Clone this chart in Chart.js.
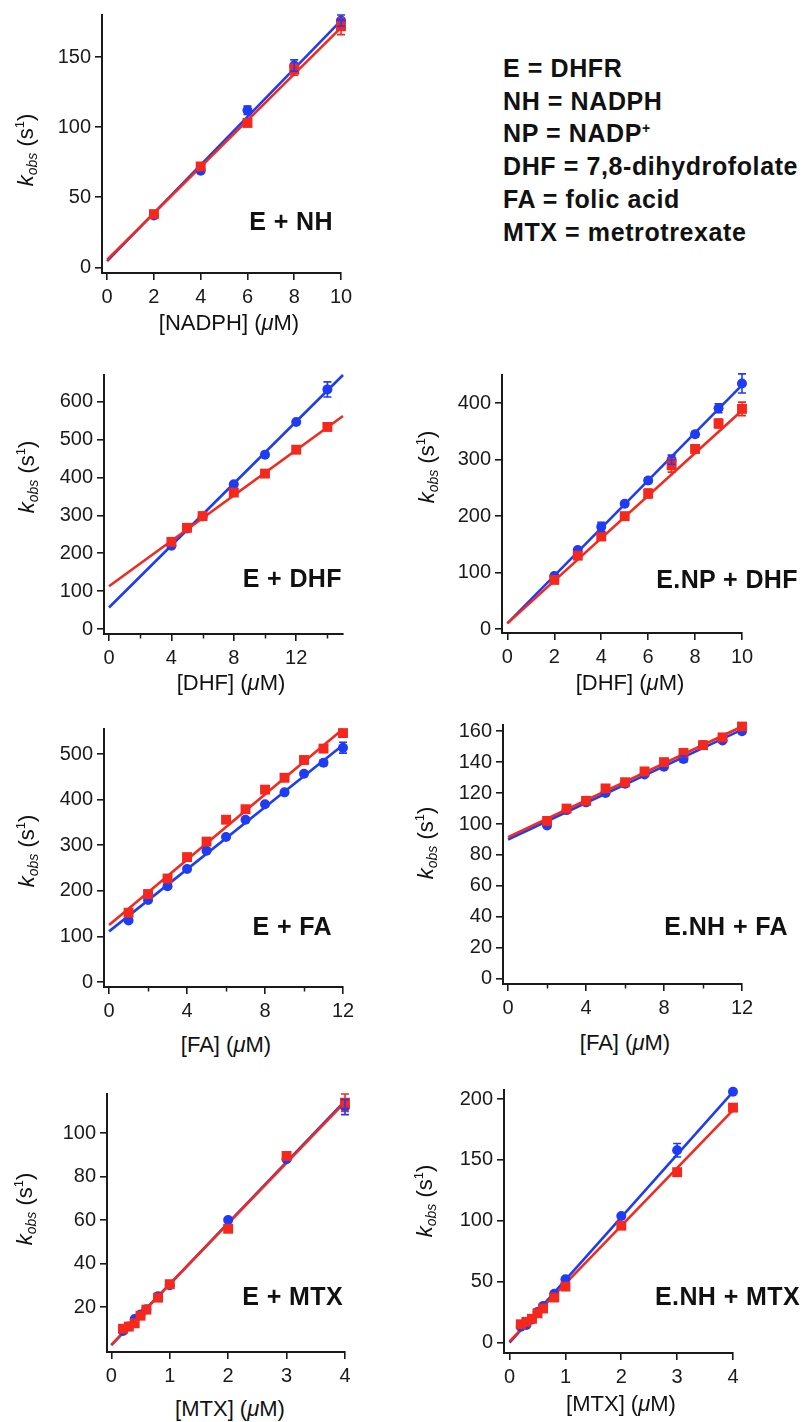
<!DOCTYPE html>
<html><head><meta charset="utf-8">
<script src="https://cdn.jsdelivr.net/npm/chart.js@4.4.1/dist/chart.umd.min.js"></script>
<style>
body{margin:0;background:#fff;}
#wrap{position:relative;width:812px;height:1422px;overflow:hidden;font-family:"Liberation Sans",Arial,Helvetica,sans-serif;color:#111;}
canvas{position:absolute;}
.lbl{position:absolute;font-weight:bold;font-size:25px;letter-spacing:0.4px;white-space:nowrap;transform:translateY(-50%);text-align:right;}
.xt{position:absolute;font-size:22px;white-space:nowrap;transform:translate(-50%,-50%);}
.yt{position:absolute;font-size:22px;white-space:nowrap;transform:translate(-50%,-50%) rotate(-90deg);line-height:26px;}
.yt sub{font-size:14px;vertical-align:baseline;position:relative;top:4px;line-height:0;}
.yt sup{font-size:13px;vertical-align:baseline;position:relative;top:-9px;line-height:0;}
.legend{position:absolute;left:503px;top:52px;font-weight:bold;font-size:25px;letter-spacing:0.6px;line-height:32.7px;white-space:nowrap;}
.legend sup{font-size:14px;vertical-align:baseline;position:relative;top:-9px;line-height:0;}
</style></head>
<body><div id="wrap"></div>
<script>
// ---------- DATA ----------
// E + NH
const nhX = [2, 4, 6, 8, 10];
const nhBlue = [37, 69, 112, 144, 176];
const nhBlueErr = [0, 0, 3, 4, 4];
const nhRed = [38, 72, 103, 141, 172];
const nhRedErr = [0, 0, 0, 4, 6];
const nhFitX = [0, 10];
const nhBlueFit = [4.5, 176];
const nhRedFit = [5.5, 171];
const nhXTicks = [0, 2, 4, 6, 8, 10];
const nhYTicks = [0, 50, 100, 150];

// E + DHF
const dhfX = [4, 5, 6, 8, 10, 12, 14];
const dhfBlue = [220, 265, 297, 382, 460, 546, 632];
const dhfBlueErr = [0, 0, 0, 0, 0, 0, 20];
const dhfRed = [230, 267, 298, 360, 410, 473, 533];
const dhfRedErr = [0, 0, 0, 0, 0, 0, 0];
const dhfFitX = [0, 15];
const dhfBlueFit = [57, 670];
const dhfRedFit = [113, 562];
const dhfXTicks = [0, 4, 8, 12];
const dhfXMinor = [2, 6, 10, 14];
const dhfYTicks = [0, 100, 200, 300, 400, 500, 600];

// E.NP + DHF
const npX = [2, 3, 4, 5, 6, 7, 8, 9, 10];
const npBlue = [94, 140, 181, 222, 263, 300, 345, 391, 435];
const npBlueErr = [0, 0, 8, 0, 5, 8, 5, 8, 17];
const npRed = [87, 130, 164, 200, 240, 290, 319, 364, 390];
const npRedErr = [0, 0, 0, 0, 8, 12, 0, 8, 12];
const npFitX = [0, 10];
const npBlueFit = [10, 432];
const npRedFit = [10, 387];
const npXTicks = [0, 2, 4, 6, 8, 10];
const npYTicks = [0, 100, 200, 300, 400];

// E + FA
const faX = [1, 2, 3, 4, 5, 6, 7, 8, 9, 10, 11, 12];
const faBlue = [135, 180, 210, 248, 288, 318, 356, 390, 416, 457, 481, 514];
const faBlueErr = [0, 0, 0, 0, 0, 0, 0, 0, 0, 0, 6, 12];
const faRed = [152, 193, 227, 274, 308, 356, 379, 422, 448, 487, 512, 546];
const faRedErr = [0, 0, 0, 0, 0, 0, 0, 0, 0, 0, 0, 0];
const faFitX = [0, 12];
const faBlueFit = [111, 520];
const faRedFit = [125, 555];
const faXTicks = [0, 4, 8, 12];
const faXMinor = [2, 6, 10];
const faYTicks = [0, 100, 200, 300, 400, 500];

// E.NH + FA
const nhfaX = [2, 3, 4, 5, 6, 7, 8, 9, 10, 11, 12];
const nhfaBlue = [99, 109, 114, 120, 126, 132, 137, 142, 151, 154, 160];
const nhfaBlueErr = [0, 0, 0, 0, 0, 0, 0, 2, 0, 0, 0];
const nhfaRed = [102, 110, 115, 123, 127, 134, 140, 146, 151, 156, 163];
const nhfaRedErr = [0, 0, 0, 0, 0, 0, 0, 0, 0, 0, 0];
const nhfaFitX = [0, 12];
const nhfaBlueFit = [90, 161];
const nhfaRedFit = [91.5, 163];
const nhfaXTicks = [0, 4, 8, 12];
const nhfaXMinor = [2, 6, 10];
const nhfaYTicks = [0, 20, 40, 60, 80, 100, 120, 140, 160];

// E + MTX
const mtxX = [0.2, 0.3, 0.4, 0.5, 0.6, 0.8, 1, 2, 3, 4];
const mtxBlue = [9, 11, 14.5, 16.5, 19, 25, 30, 60, 88, 112];
const mtxBlueErr = [0, 0, 0, 0, 0, 0, 0, 0, 0, 3.5];
const mtxRed = [10, 11, 12.5, 16, 18.8, 24.3, 30.5, 56, 89.5, 114];
const mtxRedErr = [0, 0, 0, 0, 0, 0, 0, 0, 0, 4];
const mtxFitX = [0, 4];
const mtxBlueFit = [2.5, 114.8];
const mtxRedFit = [2.6, 114.3];
const mtxXTicks = [0, 1, 2, 3, 4];
const mtxYTicks = [20, 40, 60, 80, 100];

// E.NH + MTX
const nhmtxX = [0.2, 0.3, 0.4, 0.5, 0.6, 0.8, 1, 2, 3, 4];
const nhmtxBlue = [13, 14.5, 19, 25, 30, 40, 52, 104, 158, 206];
const nhmtxBlueErr = [0, 0, 0, 0, 0, 0, 0, 0, 5.5, 0];
const nhmtxRed = [15, 17, 19.5, 24, 28, 37, 46, 96, 140, 193];
const nhmtxRedErr = [0, 0, 0, 0, 0, 0, 0, 0, 0, 0];
const nhmtxFitX = [0, 4];
const nhmtxBlueFit = [0, 206];
const nhmtxRedFit = [1, 191];
const nhmtxXTicks = [0, 1, 2, 3, 4];
const nhmtxYTicks = [0, 50, 100, 150, 200];

// ---------- STYLE / LAYOUT ----------
const BLUE = '#1f3cf5';
const RED = '#f5281e';
const AX = '#1a1a1a';
const FONT = '"Liberation Sans", Arial, Helvetica, sans-serif';

const panels = [
  {box:[102,341,13,273], xr:[-0.22,10], yr:[-4,180], xt:nhXTicks, yt:nhYTicks, xm:[],
   x:nhX, b:nhBlue, be:nhBlueErr, r:nhRed, re:nhRedErr, fx:nhFitX, bf:nhBlueFit, rf:nhRedFit},
  {box:[104,343,373,634], xr:[-0.32,15], yr:[-13,670], xt:dhfXTicks, yt:dhfYTicks, xm:dhfXMinor,
   x:dhfX, b:dhfBlue, be:dhfBlueErr, r:dhfRed, re:dhfRedErr, fx:dhfFitX, bf:dhfBlueFit, rf:dhfRedFit},
  {box:[502,742,373,633], xr:[-0.23,10], yr:[-7,450], xt:npXTicks, yt:npYTicks, xm:[],
   x:npX, b:npBlue, be:npBlueErr, r:npRed, re:npRedErr, fx:npFitX, bf:npBlueFit, rf:npRedFit},
  {box:[104,343,727,987], xr:[-0.26,12], yr:[-11,555], xt:faXTicks, yt:faYTicks, xm:faXMinor,
   x:faX, b:faBlue, be:faBlueErr, r:faRed, re:faRedErr, fx:faFitX, bf:faBlueFit, rf:faRedFit},
  {box:[503,742,723,984], xr:[-0.26,12], yr:[-3.4,164], xt:nhfaXTicks, yt:nhfaYTicks, xm:nhfaXMinor,
   x:nhfaX, b:nhfaBlue, be:nhfaBlueErr, r:nhfaRed, re:nhfaRedErr, fx:nhfaFitX, bf:nhfaBlueFit, rf:nhfaRedFit},
  {box:[107,345,1092,1352], xr:[-0.074,4], yr:[-0.7,118], xt:mtxXTicks, yt:mtxYTicks, xm:[],
   x:mtxX, b:mtxBlue, be:mtxBlueErr, r:mtxRed, re:mtxRedErr, fx:mtxFitX, bf:mtxBlueFit, rf:mtxRedFit},
  {box:[504,733,1088,1353], xr:[-0.1,4], yr:[-8.6,207.5], xt:nhmtxXTicks, yt:nhmtxYTicks, xm:[],
   x:nhmtxX, b:nhmtxBlue, be:nhmtxBlueErr, r:nhmtxRed, re:nhmtxRedErr, fx:nhmtxFitX, bf:nhmtxBlueFit, rf:nhmtxRedFit}
];

const panelLabels = [
  ['E + NH', 333, 221], ['E + DHF', 342, 578], ['E.NP + DHF', 798, 579],
  ['E + FA', 332, 926], ['E.NH + FA', 788, 926], ['E + MTX', 343, 1296], ['E.NH + MTX', 800, 1296]
];
const xTitles = [
  ['[NADPH] (<i>μ</i>M)', 229, 323], ['[DHF] (<i>μ</i>M)', 231, 683], ['[DHF] (<i>μ</i>M)', 630, 683],
  ['[FA] (<i>μ</i>M)', 226, 1045], ['[FA] (<i>μ</i>M)', 625, 1043], ['[MTX] (<i>μ</i>M)', 230, 1409], ['[MTX] (<i>μ</i>M)', 621, 1404]
];
const yTitlePos = [[26,150],[27,477],[427,467],[27,851],[426,843],[25,1209],[425,1201]];
const legendLines = ['E = DHFR','NH = NADPH','NP = NADP<sup>+</sup>','DHF = 7,8-dihydrofolate','FA = folic acid','MTX = metrotrexate'];

// ---------- PLUGIN: error bars + minor ticks ----------
const extras = {
  id: 'extras',
  afterDatasetsDraw(chart) {
    const ctx = chart.ctx, xs = chart.scales.x, ys = chart.scales.y;
    ctx.save();
    chart.data.datasets.forEach(ds => {
      if (!ds.errors) return;
      ctx.strokeStyle = ds.pointBackgroundColor;
      ctx.lineWidth = 1.6;
      ds.data.forEach((pt, j) => {
        const e = ds.errors[j];
        if (!e) return;
        const px = xs.getPixelForValue(pt.x);
        const y1 = ys.getPixelForValue(pt.y - e), y2 = ys.getPixelForValue(pt.y + e);
        ctx.beginPath();
        ctx.moveTo(px, y1); ctx.lineTo(px, y2);
        ctx.moveTo(px - 4, y1); ctx.lineTo(px + 4, y1);
        ctx.moveTo(px - 4, y2); ctx.lineTo(px + 4, y2);
        ctx.stroke();
      });
    });
    const minor = chart.options.plugins.extras.minorX || [];
    ctx.strokeStyle = AX; ctx.lineWidth = 1.5;
    const yb = chart.chartArea.bottom;
    minor.forEach(v => {
      const px = Math.round(xs.getPixelForValue(v)) + 0.5;
      ctx.beginPath(); ctx.moveTo(px, yb); ctx.lineTo(px, yb + 4.5); ctx.stroke();
    });
    ctx.restore();
  }
};

const wrap = document.getElementById('wrap');
const YW = 70, PT = 14, PR = 24, XH = 44;

function pts(xs, ys) { return xs.map((x, i) => ({x: x, y: ys[i]})); }

panels.forEach((p, idx) => {
  const [L, R, T, B] = p.box;
  const c = document.createElement('canvas');
  const w = YW + (R - L) + PR, h = PT + (B - T) + XH;
  c.width = w; c.height = h;
  c.style.left = (L - YW) + 'px'; c.style.top = (T - PT) + 'px';
  c.style.width = w + 'px'; c.style.height = h + 'px';
  wrap.appendChild(c);
  const tickFont = {family: FONT, size: 20};
  new Chart(c, {
    type: 'scatter',
    data: {
      datasets: [
        {data: pts(p.fx, p.rf), showLine: true, borderColor: RED, borderWidth: 2.6, pointRadius: 0, order: 10, clip: 2},
        {data: pts(p.fx, p.bf), showLine: true, borderColor: BLUE, borderWidth: 2.6, pointRadius: 0, order: 11, clip: 2},
        {data: pts(p.x, p.r), errors: p.re, pointStyle: 'rect', pointRadius: 7, pointBackgroundColor: RED, pointBorderWidth: 0, borderColor: RED, showLine: false, order: 1, clip: false},
        {data: pts(p.x, p.b), errors: p.be, pointStyle: 'circle', pointRadius: 5, pointBackgroundColor: BLUE, pointBorderWidth: 0, borderColor: BLUE, showLine: false, order: 5, clip: false}
      ]
    },
    options: {
      responsive: false, animation: false, devicePixelRatio: 1,
      layout: {padding: {left: 0, top: PT, right: PR, bottom: 0}},
      plugins: {legend: {display: false}, tooltip: {enabled: false}, extras: {minorX: p.xm}},
      scales: {
        x: {
          type: 'linear', min: p.xr[0], max: p.xr[1],
          afterBuildTicks: s => { s.ticks = p.xt.map(v => ({value: v})); },
          afterFit: s => { s.height = XH; },
          ticks: {autoSkip: false, maxRotation: 0, padding: 5, font: tickFont, color: '#1a1a1a', callback: v => String(v)},
          grid: {drawOnChartArea: false, drawTicks: true, tickLength: 7, color: AX, lineWidth: 1.6},
          border: {display: true, color: AX, width: 2}
        },
        y: {
          type: 'linear', min: p.yr[0], max: p.yr[1],
          afterBuildTicks: s => { s.ticks = p.yt.map(v => ({value: v})); },
          afterFit: s => { s.width = YW; },
          ticks: {autoSkip: false, padding: 4, font: tickFont, color: '#1a1a1a', callback: v => String(v)},
          grid: {drawOnChartArea: false, drawTicks: true, tickLength: 7, color: AX, lineWidth: 1.6},
          border: {display: true, color: AX, width: 2}
        }
      }
    },
    plugins: [extras]
  });
});

function addDiv(cls, html, styles) {
  const d = document.createElement('div');
  d.className = cls; d.innerHTML = html;
  Object.assign(d.style, styles);
  wrap.appendChild(d);
}
panelLabels.forEach(([t, r, cy]) => addDiv('lbl', t, {right: (812 - r) + 'px', top: cy + 'px'}));
xTitles.forEach(([t, cx, cy]) => addDiv('xt', t, {left: cx + 'px', top: cy + 'px'}));
yTitlePos.forEach(([cx, cy]) => addDiv('yt', '<i>k</i><sub><i>obs</i></sub> (s<sup>1</sup>)', {left: cx + 'px', top: cy + 'px'}));
addDiv('legend', legendLines.join('<br>'), {});
</script>
</body></html>
